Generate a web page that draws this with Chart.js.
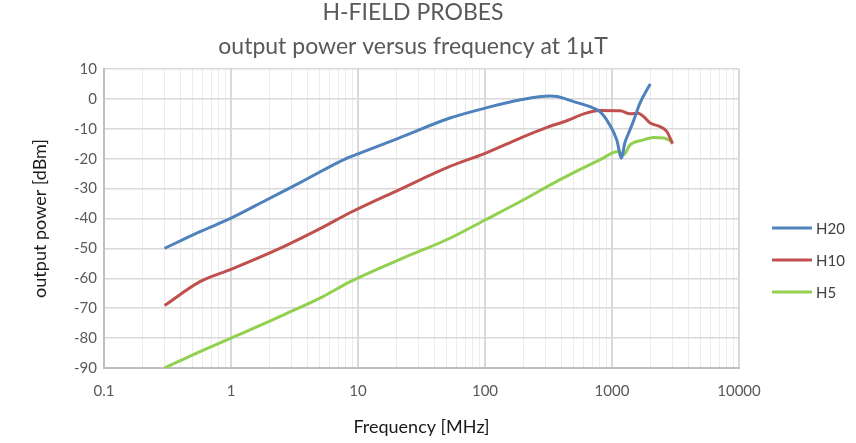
<!DOCTYPE html>
<html>
<head>
<meta charset="utf-8">
<title>H-field probes</title>
<script src="https://cdn.jsdelivr.net/npm/chart.js@4.4.0/dist/chart.umd.min.js"></script>
<style>
  html, body { margin: 0; padding: 0; background: #fff; }
  #wrap { width: 856px; height: 443px; }
</style>
</head>
<body>
<div id="wrap"><canvas id="probeChart" width="856" height="443"></canvas></div>
<script>
// frequency in MHz, output power in dBm
const h20Freq  = [0.3, 0.57, 1, 1.9, 3.5, 8.2, 10, 21, 53, 100, 190, 325, 370, 500, 670, 800, 960, 1090, 1190, 1260, 1350, 1470, 1660, 2000];
const h20Power = [-50, -44.4, -39.9, -33.8, -28, -19.8, -18.4, -13.1, -6.4, -3.1, -0.3, 1, 0.8, -0.9, -2.6, -4.2, -8.7, -13.7, -19.8, -14.8, -11.5, -7.6, -1.4, 5];

const h10Freq  = [0.3, 0.57, 1, 2.6, 5.3, 8.7, 21, 53, 100, 190, 300, 440, 600, 800, 1160, 1390, 1610, 1770, 2000, 2400, 2700, 3000];
const h10Power = [-69.1, -61.1, -57, -49.4, -42.9, -38, -30.4, -22.6, -18.2, -13.1, -9.7, -7.3, -5, -3.9, -4.0, -5.0, -4.8, -5.9, -8.1, -9.3, -10.9, -15];

const h5Freq  = [0.3, 0.57, 1, 2.6, 5.3, 8.7, 21, 53, 100, 190, 390, 800, 1120, 1230, 1390, 1770, 2130, 2550, 3000];
const h5Power = [-90, -84.5, -80, -72.2, -66.1, -61.1, -53.8, -46.6, -40.5, -34.3, -27, -20.4, -17.6, -18.7, -15.4, -13.7, -12.9, -13.1, -14.3];

const seriesNames = ["H20", "H10", "H5"];
const xDecades = [0.1, 1, 10, 100, 1000, 10000];
const xTickLabels = ["0.1", "1", "10", "100", "1000", "10000"];

function points(freq, power) {
  return freq.map((f, i) => ({ x: f, y: power[i] }));
}

function decadeIndex(v) {
  return xDecades.findIndex(d => Math.abs(d - v) / d < 1e-6);
}

// grid positions 1..9 in every decade, like excel does on a log axis
const xGrid = [];
xDecades.slice(0, -1).forEach(d => {
  for (let m = 1; m <= 9; m++) xGrid.push(+(d * m).toPrecision(6));
});
xGrid.push(xDecades[xDecades.length - 1]);

// legend on the right, excel style
const sideLegend = {
  id: "sideLegend",
  afterDraw(chart) {
    const c = chart.ctx;
    c.save();
    c.font = "15px Lato";
    c.textBaseline = "middle";
    chart.data.datasets.forEach((ds, i) => {
      const y = 228 + i * 32;
      c.strokeStyle = ds.borderColor;
      c.lineWidth = 3;
      c.beginPath();
      c.moveTo(772, y);
      c.lineTo(812, y);
      c.stroke();
      c.fillStyle = "#404040";
      c.fillText(ds.label, 816, y + 1);
    });
    c.restore();
  }
};

Chart.defaults.font.family = "Lato";
Chart.defaults.color = "#595959";

const colors = ["#4f81bd", "#c0504d", "#92d050"];
const allFreq = [h20Freq, h10Freq, h5Freq];
const allPower = [h20Power, h10Power, h5Power];

new Chart(document.getElementById("probeChart"), {
  type: "scatter",
  data: {
    datasets: seriesNames.map((name, i) => ({
      label: name,
      data: points(allFreq[i], allPower[i]),
      showLine: true,
      borderColor: colors[i],
      backgroundColor: colors[i],
      borderWidth: 3,
      pointRadius: 0,
      cubicInterpolationMode: "monotone",
    })),
  },
  options: {
    responsive: false,
    animation: false,
    layout: { padding: { left: 0, right: 30, top: 0, bottom: 0 } },
    plugins: {
      legend: { display: false },
      tooltip: { enabled: false },
      title: {
        display: true,
        text: ["H-FIELD PROBES", "output power versus frequency at 1\u00b5T"],
        color: "#595959",
        font: { size: 23, weight: "normal", lineHeight: "34px" },
        padding: { top: -4, bottom: 5 },
      },
    },
    scales: {
      x: {
        type: "logarithmic",
        min: 0.1,
        max: 10000,
        afterBuildTicks: (scale) => {
          scale.ticks = xGrid.map(v => ({ value: v }));
        },
        afterFit: (scale) => { scale.height = 75; },
        ticks: {
          autoSkip: false,
          maxRotation: 0,
          padding: 14,
          font: { size: 15 },
          callback: (v) => {
            const k = decadeIndex(v);
            return k >= 0 ? xTickLabels[k] : "";
          },
        },
        grid: {
          drawTicks: false,
          color: (ctx) => ctx.tick && decadeIndex(ctx.tick.value) >= 0 ? "#d9d9d9" : "#ececec",
          lineWidth: (ctx) => ctx.tick && decadeIndex(ctx.tick.value) >= 0 ? 2 : 1,
        },
        border: { color: "#bfbfbf", width: 2 },
        title: {
          display: true,
          text: "Frequency [MHz]",
          color: "#1a1a1a",
          font: { size: 18 },
          padding: { top: 0, bottom: 5 },
        },
      },
      y: {
        min: -90,
        max: 10,
        afterFit: (scale) => { scale.width = 104; },
        ticks: { stepSize: 10, padding: 7, font: { size: 15 } },
        grid: { drawTicks: false, color: "#d9d9d9", lineWidth: 1.5 },
        border: { color: "#bfbfbf", width: 2 },
        title: {
          display: true,
          text: "output power [dBm]",
          color: "#1a1a1a",
          font: { size: 18 },
          padding: { top: 29, bottom: 0 },
        },
      },
      // empty axis that only keeps room for the legend on the right
      legendRoom: {
        position: "right",
        afterFit: (scale) => { scale.width = 87; },
        ticks: { display: false },
        grid: { display: false },
        border: { display: false },
      },
    },
  },
  plugins: [sideLegend],
});
</script>
</body>
</html>
